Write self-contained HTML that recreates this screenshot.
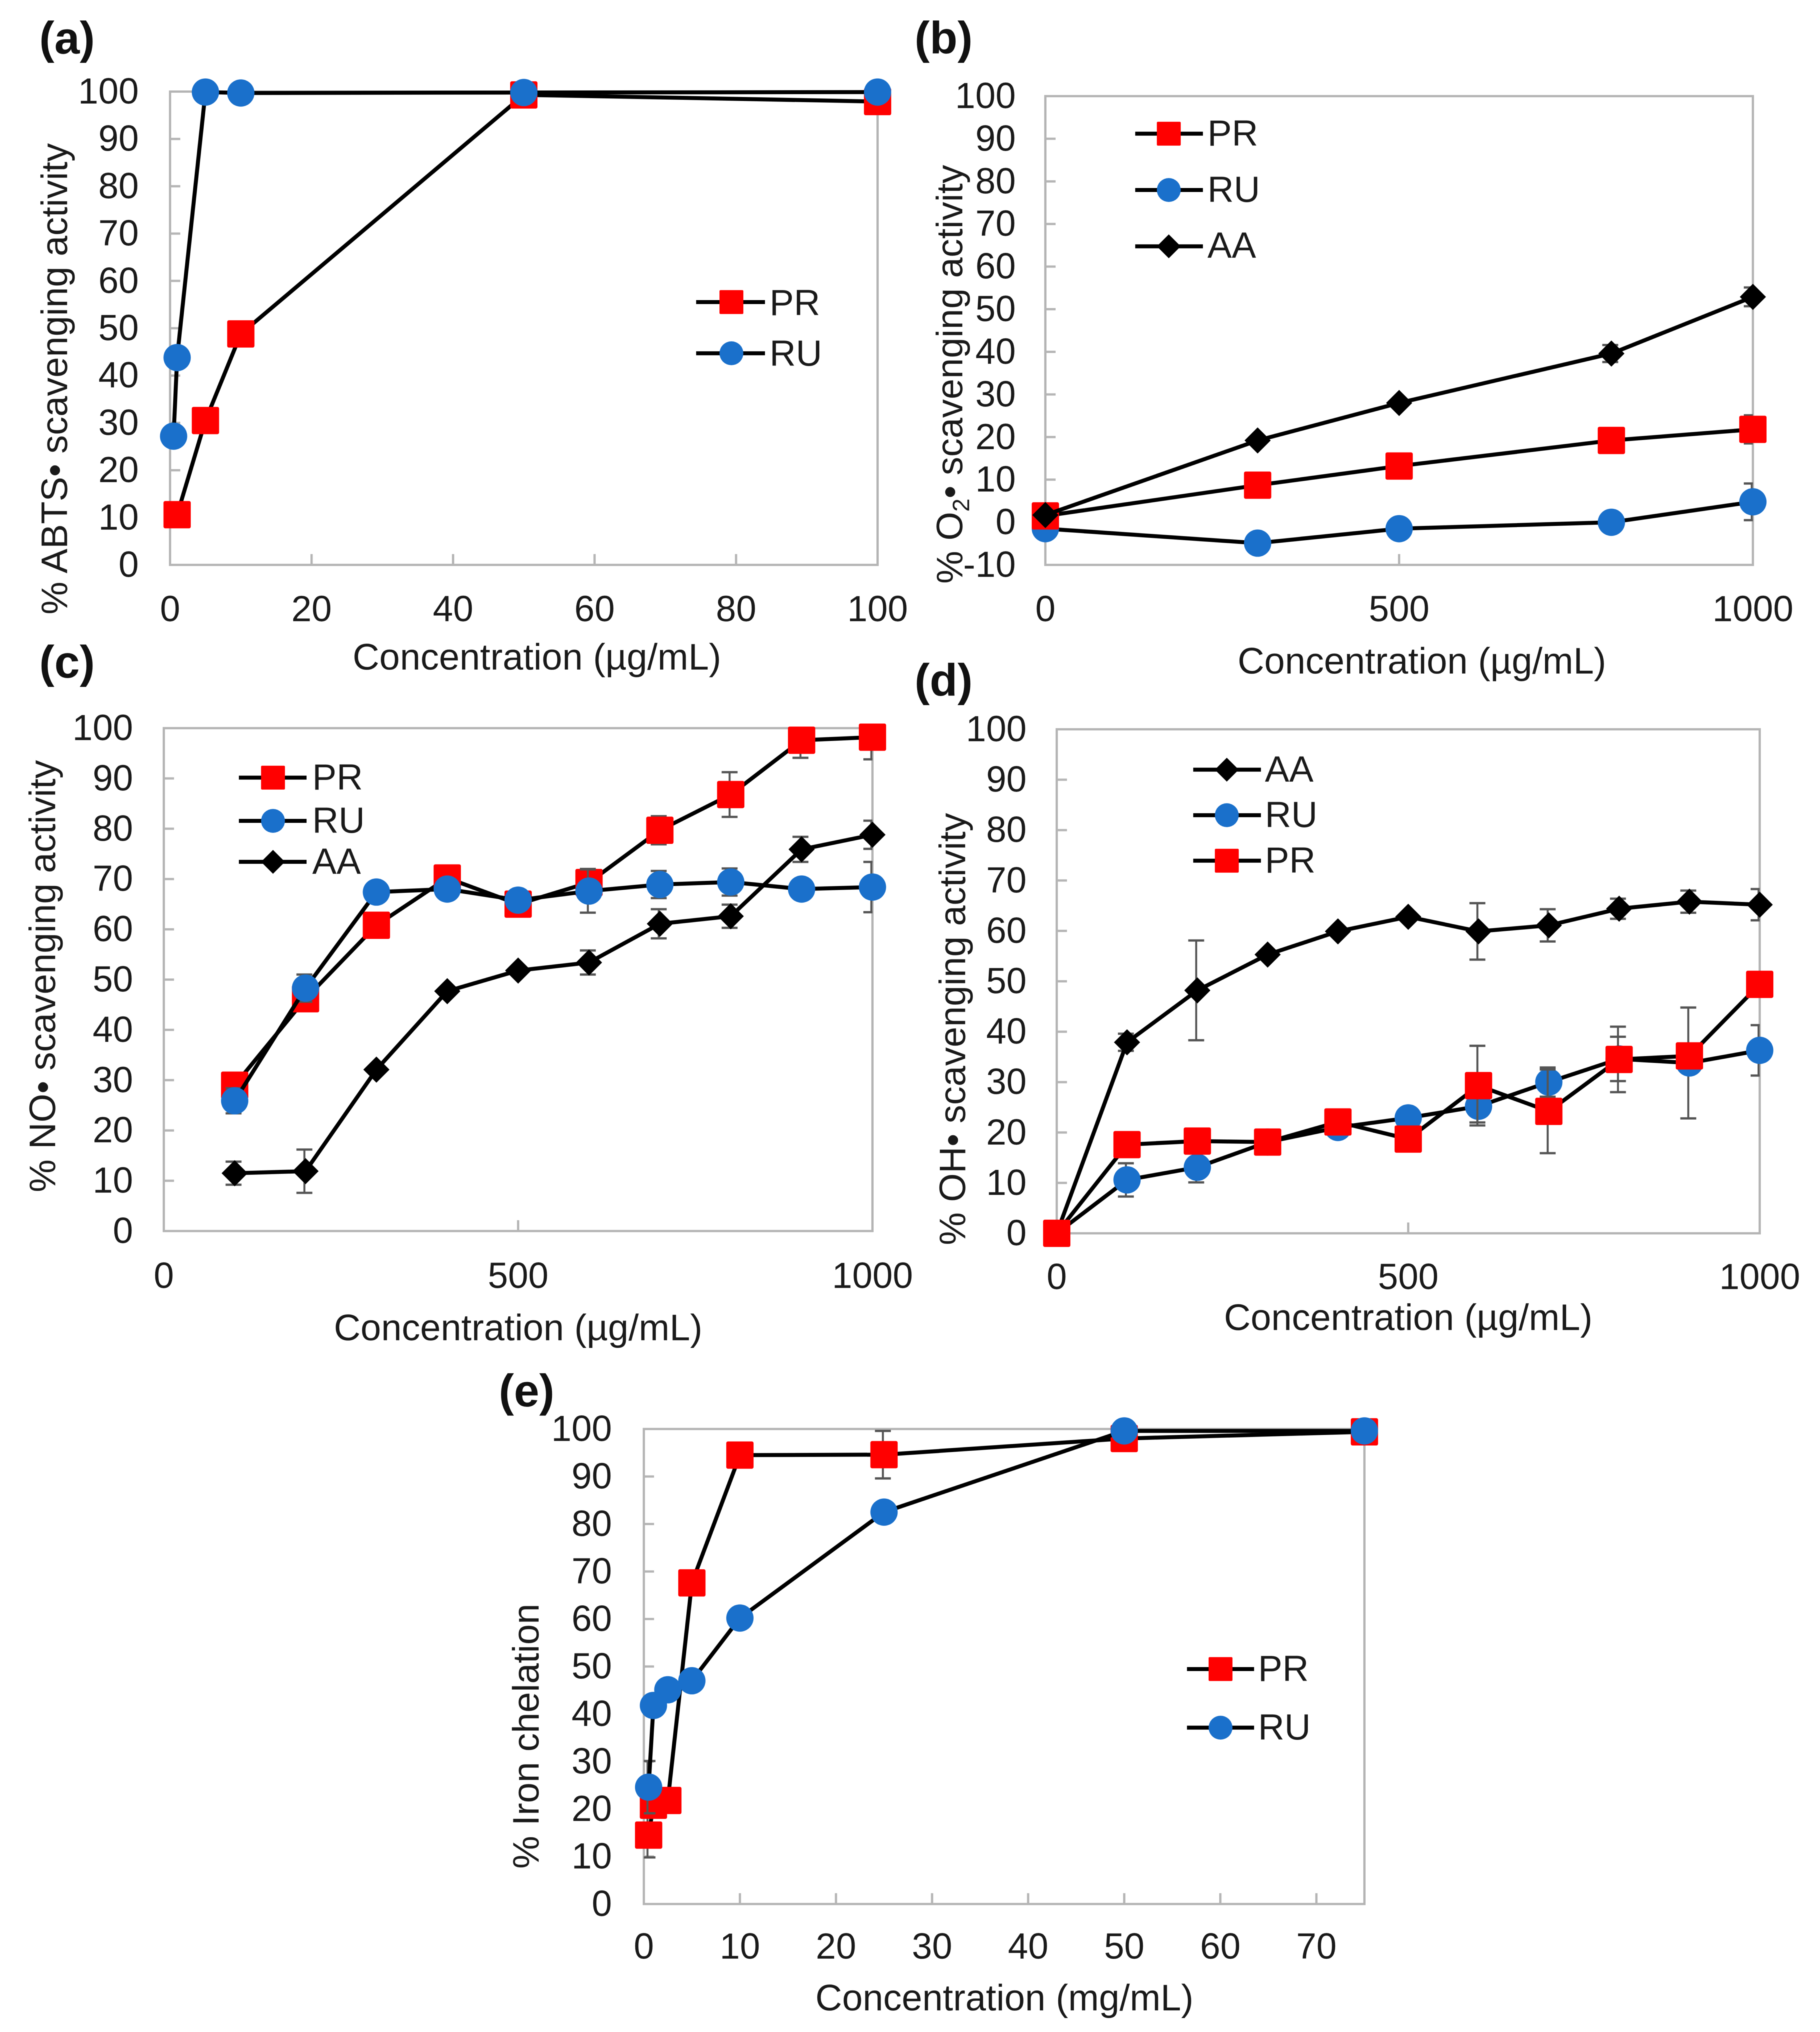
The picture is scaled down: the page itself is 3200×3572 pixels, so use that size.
<!DOCTYPE html>
<html lang="en">
<head>
<meta charset="utf-8">
<title>Antioxidant activity panels</title>
<style>
html,body{margin:0;padding:0;background:#fff;}
svg{display:block;filter:blur(0.9px);}
text{font-family:"Liberation Sans",sans-serif;fill:#1a1a1a;}
.tick{font-size:64px;}
.title{font-size:65px;}
.legend{font-size:64px;}
.panel{font-size:80px;font-weight:bold;fill:#111;}
.frame{fill:none;stroke:#b5b5b5;stroke-width:4;}
.lline{stroke:#000;stroke-width:7;}
</style>
</head>
<body>
<svg id="fig" xmlns="http://www.w3.org/2000/svg" width="3200" height="3572" viewBox="0 0 3200 3572">
  <rect width="3200" height="3572" fill="#fff"/>

  <g id="a">
    <rect class="frame" x="299" y="161" width="1244" height="832"/>
    <text class="panel" x="69" y="94">(a)</text>
    <text class="title" x="944" y="1177" text-anchor="middle">Concentration (µg/mL)</text>
    <text class="title" transform="translate(118 666) rotate(-90)" text-anchor="middle">% ABTS• scavenging activity</text>
  </g>

  <g id="b">
    <rect class="frame" x="1838" y="169" width="1244" height="824"/>
    <text class="panel" x="1608" y="94">(b)</text>
    <text class="title" x="2500" y="1184" text-anchor="middle">Concentration (µg/mL)</text>
    <text class="title" transform="translate(1692 658) rotate(-90)" text-anchor="middle">% O<tspan font-size="42" dy="12">2</tspan><tspan dy="-12">• scavenging activity</tspan></text>
  </g>

  <g id="c">
    <rect class="frame" x="288" y="1280" width="1246" height="884"/>
    <text class="panel" x="69" y="1191">(c)</text>
    <text class="title" x="911" y="2356" text-anchor="middle">Concentration (µg/mL)</text>
    <text class="title" transform="translate(97 1716) rotate(-90)" text-anchor="middle">% NO• scavenging activity</text>
  </g>

  <g id="d">
    <rect class="frame" x="1858" y="1282" width="1236" height="886"/>
    <text class="panel" x="1608" y="1223">(d)</text>
    <text class="title" x="2476" y="2338" text-anchor="middle">Concentration (µg/mL)</text>
    <text class="title" transform="translate(1697 1809) rotate(-90)" text-anchor="middle">% OH• scavenging activity</text>
  </g>

  <g id="e">
    <rect class="frame" x="1132" y="2512" width="1267" height="835"/>
    <text class="panel" x="877" y="2472">(e)</text>
    <text class="title" x="1766" y="3534" text-anchor="middle">Concentration (mg/mL)</text>
    <text class="title" transform="translate(947 3052) rotate(-90)" text-anchor="middle">% Iron chelation</text>
  </g>

  <g id="legends">
    <g>
      <g><line class="lline" x1="1224" x2="1345" y1="531" y2="531"/><rect x="1265" y="510" width="42" height="42" rx="2" fill="#ff0000"/><text class="legend" x="1353" y="554">PR</text></g>
      <g><line class="lline" x1="1224" x2="1345" y1="621" y2="621"/><circle cx="1286" cy="621" r="21" fill="#1a70cb"/><text class="legend" x="1353" y="643">RU</text></g>
    </g>
    <g>
      <g><line class="lline" x1="1996" x2="2115" y1="235" y2="235"/><rect x="2034" y="214" width="42" height="42" rx="2" fill="#ff0000"/><text class="legend" x="2123" y="256">PR</text></g>
      <g><line class="lline" x1="1996" x2="2115" y1="334" y2="334"/><circle cx="2055" cy="334" r="21" fill="#1a70cb"/><text class="legend" x="2123" y="355">RU</text></g>
      <g><line class="lline" x1="1996" x2="2115" y1="433" y2="433"/><polygon points="2055,412 2076,433 2055,454 2034,433" fill="#000"/><text class="legend" x="2123" y="453">AA</text></g>
    </g>
    <g>
      <g><line class="lline" x1="420" x2="539" y1="1367" y2="1367"/><rect x="459" y="1346" width="42" height="42" rx="2" fill="#ff0000"/><text class="legend" x="549" y="1388">PR</text></g>
      <g><line class="lline" x1="420" x2="539" y1="1443" y2="1443"/><circle cx="480" cy="1443" r="21" fill="#1a70cb"/><text class="legend" x="549" y="1464">RU</text></g>
      <g><line class="lline" x1="420" x2="539" y1="1515" y2="1515"/><polygon points="480,1494 501,1515 480,1536 459,1515" fill="#000"/><text class="legend" x="549" y="1536">AA</text></g>
    </g>
    <g>
      <g><line class="lline" x1="2098" x2="2217" y1="1353" y2="1353"/><polygon points="2157,1332 2178,1353 2157,1374 2136,1353" fill="#000"/><text class="legend" x="2224" y="1374">AA</text></g>
      <g><line class="lline" x1="2098" x2="2217" y1="1433" y2="1433"/><circle cx="2157" cy="1433" r="21" fill="#1a70cb"/><text class="legend" x="2224" y="1454">RU</text></g>
      <g><line class="lline" x1="2098" x2="2217" y1="1513" y2="1513"/><rect x="2136" y="1492" width="42" height="42" rx="2" fill="#ff0000"/><text class="legend" x="2224" y="1534">PR</text></g>
    </g>
    <g>
      <g><line class="lline" x1="2087" x2="2205" y1="2934" y2="2934"/><rect x="2125" y="2913" width="42" height="42" rx="2" fill="#ff0000"/><text class="legend" x="2212" y="2955">PR</text></g>
      <g><line class="lline" x1="2087" x2="2205" y1="3037" y2="3037"/><circle cx="2146" cy="3037" r="21" fill="#1a70cb"/><text class="legend" x="2212" y="3058">RU</text></g>
    </g>
  </g>
</svg>
<script>
// ---------- Panel (a) ABTS ----------
const aTicksX = [0, 20, 40, 60, 80, 100];
const aTicksY = [0, 10, 20, 30, 40, 50, 60, 70, 80, 90, 100];
const aPrX = [1, 5, 10, 50, 100];
const aPrY = [10.6, 30.5, 48.8, 99.3, 97.9];
const aPrE = [0, 0, 0, 0, 0];
const aRuX = [0.5, 1, 5, 10, 50, 100];
const aRuY = [27.2, 43.8, 99.9, 99.7, 99.8, 99.9];
const aRuE = [0, 0, 0, 0, 0, 0];

// ---------- Panel (b) O2 ----------
const bTicksX = [0, 500, 1000];
const bTicksY = [-10, 0, 10, 20, 30, 40, 50, 60, 70, 80, 90, 100];
const bX = [0, 300, 500, 800, 1000];
const bRuY = [-1.5, -4.9, -1.5, 0, 4.8];
const bRuE = [0, 0, 0, 0, 4.3];
const bPrY = [1.5, 8.7, 13.2, 19.2, 21.8];
const bPrE = [0, 0, 0, 0, 3.3];
const bAaY = [1.7, 19.2, 28, 39.6, 52.9];
const bAaE = [0, 0, 0, 2, 2.2];

// ---------- Panel (c) NO ----------
const cTicksX = [0, 500, 1000];
const cTicksY = [0, 10, 20, 30, 40, 50, 60, 70, 80, 90, 100];
const cX = [100, 200, 300, 400, 500, 600, 700, 800, 900, 1000];
const cPrY = [29, 46.2, 60.8, 70.2, 65, 69.3, 79.7, 86.8, 97.6, 98.2];
const cPrE = [0, 0, 0, 0, 0, 2.7, 2.8, 4.45, 3.5, 4.4];
const cRuY = [25.9, 48.3, 67.4, 68, 65.8, 67.6, 68.9, 69.4, 68, 68.4];
const cRuE = [2.5, 2.7, 0, 0, 0, 4.3, 2.7, 2.7, 0, 5];
const cAaY = [11.5, 11.9, 32.1, 47.7, 51.8, 53.4, 61.1, 62.6, 75.9, 78.8];
const cAaE = [2.3, 4.3, 0.5, 0.5, 0.5, 2.4, 2.9, 2.3, 2.5, 2.8];

// ---------- Panel (d) OH ----------
const dTicksX = [0, 500, 1000];
const dTicksY = [0, 10, 20, 30, 40, 50, 60, 70, 80, 90, 100];
const dX = [0, 100, 200, 300, 400, 500, 600, 700, 800, 900, 1000];
const dAaY = [0, 37.9, 48.2, 55.3, 59.9, 62.8, 59.9, 61.1, 64.4, 65.8, 65.2];
const dAaE = [0, 1.7, 9.9, 0.5, 0.5, 0.5, 5.6, 3.2, 2, 2.2, 3.1];
const dRuY = [0, 10.6, 13.1, 18.1, 21, 22.9, 25.2, 30, 34.6, 33.8, 36.3];
const dRuE = [0, 3.3, 3, 0, 0, 0, 3.2, 2.9, 4.4, 11, 5];
const dPrY = [0, 17.6, 18.3, 18.1, 22.1, 18.7, 29.3, 24.2, 34.5, 35.2, 49.4];
const dPrE = [0, 0, 0, 0, 0, 0, 7.9, 8.3, 6.5, 0, 0];

// ---------- Panel (e) Iron ----------
const eTicksX = [0, 10, 20, 30, 40, 50, 60, 70];
const eTicksY = [0, 10, 20, 30, 40, 50, 60, 70, 80, 90, 100];
const eX = [0.5, 1, 2.5, 5, 10, 25, 50, 75];
const ePrY = [14.5, 20.8, 21.8, 67.6, 94.5, 94.6, 98, 99.4];
const ePrE = [4.7, 0, 0, 0, 0, 5, 0, 0];
const eRuY = [24.6, 41.8, 45.1, 47, 60.2, 82.5, 99.6, 99.6];
const eRuE = [5.5, 0, 0, 0, 0, 0, 0, 0];

const NS = 'http://www.w3.org/2000/svg';

function mk(parent, tag, attrs, name, text) {
  const el = document.createElementNS(NS, tag);
  for (const k in attrs) el.setAttribute(k, attrs[k]);
  
  
  if (text !== undefined) el.textContent = text;
  parent.appendChild(el);
  return el;
}

function drawPanel(id, box, domainX, domainY, ticksX, ticksY, labelRightX, labelBaseY, series) {
  const host = document.getElementById(id);
  const sx = v => box.x0 + (v - domainX[0]) / (domainX[1] - domainX[0]) * (box.x1 - box.x0);
  const sy = v => box.y1 - (v - domainY[0]) / (domainY[1] - domainY[0]) * (box.y1 - box.y0);
  const axisY = sy(domainY[0]);

  ticksY.forEach(t => {
    mk(host, 'line', {x1: box.x0, x2: box.x0 + 18, y1: sy(t), y2: sy(t), stroke: '#b5b5b5', 'stroke-width': 4}, 'y-tick-' + id);
    mk(host, 'text', {class: 'tick', x: labelRightX + 4, y: sy(t) + 21, 'text-anchor': 'end'}, 'y-tick-label-' + id, String(t));
  });
  ticksX.forEach(t => {
    mk(host, 'line', {x1: sx(t), x2: sx(t), y1: axisY, y2: axisY - 19, stroke: '#b5b5b5', 'stroke-width': 4}, 'x-tick-' + id);
    mk(host, 'text', {class: 'tick', x: sx(t), y: labelBaseY + 2, 'text-anchor': 'middle'}, 'x-tick-label-' + id, String(t));
  });

  series.forEach(s => {
    const g = mk(host, 'g', {}, 'series-' + id + '-' + s.name);
    // error bars are clipped at the plot area, as in the source chart
    s.xs.forEach((x, i) => {
      const e = s.err[i];
      if (!e) return;
      const px = sx(x) - 2;
      const rawTop = sy(s.ys[i] + e), bot = sy(s.ys[i] - e);
      const top = Math.max(rawTop, box.y0);
      const capL = Math.max(px - 14, box.x0);
      const capR = Math.min(px + 14, box.x1);
      mk(g, 'line', {x1: px, x2: px, y1: top, y2: bot, stroke: '#555', 'stroke-width': 3.5}, 'error-bar-' + s.name);
      if (rawTop >= box.y0) {
        mk(g, 'line', {x1: capL, x2: capR, y1: top, y2: top, stroke: '#555', 'stroke-width': 4}, 'error-cap-' + s.name);
      }
      mk(g, 'line', {x1: capL, x2: capR, y1: bot, y2: bot, stroke: '#555', 'stroke-width': 4}, 'error-cap-' + s.name);
    });
    const pts = s.xs.map((x, i) => sx(x) + ',' + sy(s.ys[i])).join(' ');
    mk(g, 'polyline', {points: pts, fill: 'none', stroke: '#000', 'stroke-width': 7, 'stroke-linejoin': 'round'}, 'line-' + s.name);
    s.xs.forEach((x, i) => {
      const cx = sx(x), cy = sy(s.ys[i]);
      if (s.shape === 'square') {
        mk(g, 'rect', {x: cx - 24, y: cy - 24, width: 48, height: 48, rx: 3, fill: '#ff0000'}, 'point-' + s.name);
      } else if (s.shape === 'circle') {
        mk(g, 'circle', {cx: cx, cy: cy, r: 24, fill: '#1a70cb'}, 'point-' + s.name);
      } else {
        mk(g, 'polygon', {points: [cx, cy - 23, cx + 23, cy, cx, cy + 23, cx - 23, cy].join(','), fill: '#000'}, 'point-' + s.name);
      }
    });
  });
}

drawPanel('a', {x0: 299, x1: 1543, y0: 161, y1: 993}, [0, 100], [0, 100], aTicksX, aTicksY, 240, 1090, [
  {name: 'pr', shape: 'square', xs: aPrX, ys: aPrY, err: aPrE},
  {name: 'ru', shape: 'circle', xs: aRuX, ys: aRuY, err: aRuE}
]);
drawPanel('b', {x0: 1838, x1: 3082, y0: 169, y1: 993}, [0, 1000], [-10, 100], bTicksX, bTicksY, 1782, 1090, [
  {name: 'ru', shape: 'circle', xs: bX, ys: bRuY, err: bRuE},
  {name: 'pr', shape: 'square', xs: bX, ys: bPrY, err: bPrE},
  {name: 'aa', shape: 'diamond', xs: bX, ys: bAaY, err: bAaE}
]);
drawPanel('c', {x0: 288, x1: 1534, y0: 1280, y1: 2164}, [0, 1000], [0, 100], cTicksX, cTicksY, 230, 2262, [
  {name: 'aa', shape: 'diamond', xs: cX, ys: cAaY, err: cAaE},
  {name: 'pr', shape: 'square', xs: cX, ys: cPrY, err: cPrE},
  {name: 'ru', shape: 'circle', xs: cX, ys: cRuY, err: cRuE}
]);
drawPanel('d', {x0: 1858, x1: 3094, y0: 1282, y1: 2168}, [0, 1000], [0, 100], dTicksX, dTicksY, 1801, 2264, [
  {name: 'aa', shape: 'diamond', xs: dX, ys: dAaY, err: dAaE},
  {name: 'ru', shape: 'circle', xs: dX, ys: dRuY, err: dRuE},
  {name: 'pr', shape: 'square', xs: dX, ys: dPrY, err: dPrE}
]);
drawPanel('e', {x0: 1132, x1: 2399, y0: 2512, y1: 3347}, [0, 75], [0, 100], eTicksX, eTicksY, 1072, 3441, [
  {name: 'pr', shape: 'square', xs: eX, ys: ePrY, err: ePrE},
  {name: 'ru', shape: 'circle', xs: eX, ys: eRuY, err: eRuE}
]);
</script>
</body>
</html>
